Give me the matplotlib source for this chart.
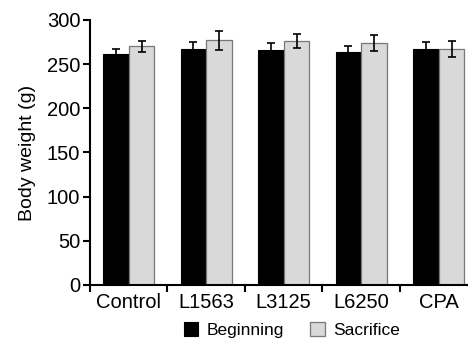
import numpy as np
import matplotlib.pyplot as plt

plt.rcParams['font.family'] = ['Liberation Sans', 'DejaVu Sans']

groups = ['Control', 'L1563', 'L3125', 'L6250', 'CPA']
beginning = [261, 267, 266, 264, 267]
beginning_err = [6, 8, 8, 7, 8]
sacrifice = [270, 277, 276, 274, 267]
sacrifice_err = [6, 11, 8, 9, 9]

fig = plt.figure(figsize=(4.68, 3.42), dpi=100)
ax = fig.add_axes([0.1923, 0.1667, 0.828, 0.775])

x = np.arange(len(groups))
w = 0.33
ax.bar(x - w / 2, beginning, w, color='black', edgecolor='black', linewidth=0.8,
       label='Beginning', yerr=beginning_err,
       error_kw=dict(ecolor='black', elinewidth=1.2, capsize=3, capthick=1.2))
ax.bar(x + w / 2, sacrifice, w, color='#d9d9d9', edgecolor='#777777', linewidth=0.9,
       label='Sacrifice', yerr=sacrifice_err,
       error_kw=dict(ecolor='black', elinewidth=1.2, capsize=3, capthick=1.2))

ax.set_xlim(-0.5, len(groups) - 0.5)
ax.set_ylim(0, 300)
ax.set_yticks(range(0, 301, 50))
ax.set_xticks(x)
ax.set_xticklabels(groups, fontsize=14.5)
ax.set_xticks(np.arange(-0.5, len(groups) - 0.5, 1.0), minor=True)
ax.tick_params(axis='x', which='major', length=0, pad=6)
ax.tick_params(axis='x', which='minor', length=5, width=1.5, direction='out')
ax.tick_params(axis='y', labelsize=14.5, length=5, width=1.5, pad=2)
ax.set_ylabel('Body weight (g)', fontsize=14)
ax.yaxis.set_label_coords(-0.14, 0.5)

for s in ['top', 'right']:
    ax.spines[s].set_visible(False)
for s in ['left', 'bottom']:
    ax.spines[s].set_linewidth(1.5)

fig.legend(loc='center', bbox_to_anchor=(0.623, 0.035), ncol=2, frameon=False,
           fontsize=12.5, handlelength=0.86, handleheight=0.86, handletextpad=0.46,
           columnspacing=1.5, borderpad=0, borderaxespad=0)

fig.savefig('out.png', dpi=100)
